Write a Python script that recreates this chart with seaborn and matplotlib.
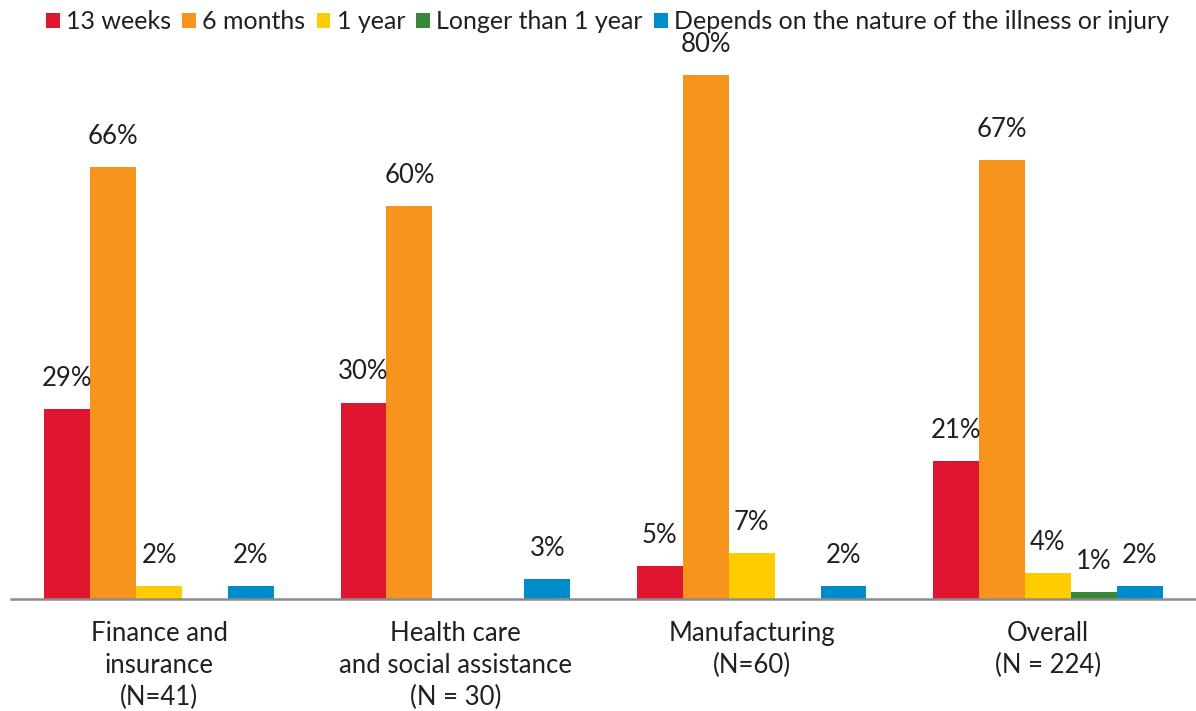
import matplotlib
matplotlib.use("Agg")
import matplotlib.pyplot as plt
import seaborn as sns
import pandas as pd
from matplotlib.patches import Patch

# Survey results: maximum duration of short-term disability benefits
sectors = [
    "Finance and\ninsurance\n(N=41)",
    "Health care\nand social assistance\n(N = 30)",
    "Manufacturing\n(N=60)",
    "Overall\n(N = 224)",
]
durations = ["13 weeks", "6 months", "1 year", "Longer than 1 year",
             "Depends on the nature of the illness or injury"]

weeks_13 = [29, 30, 5, 21]
months_6 = [66, 60, 80, 67]
year_1 = [2, None, 7, 4]
longer_1y = [None, None, None, 1]
depends = [2, 3, 2, 2]

colors = ["#E01530", "#F7941E", "#FFCC00", "#3A873A", "#008BCB"]
text_color = "#231F20"
axis_gray = "#8C8C8C"

rows = []
for series_name, vals in zip(durations, [weeks_13, months_6, year_1, longer_1y, depends]):
    for sector, v in zip(sectors, vals):
        if v is not None:
            rows.append({"sector": sector, "duration": series_name, "pct": v})
df = pd.DataFrame(rows)

sns.set_theme(style="white")
plt.rcParams["font.family"] = ["Lato", "DejaVu Sans"]

fig = plt.figure(figsize=(11.96, 7.11), dpi=100)
ax = fig.add_axes([11 / 1196, (711 - 599) / 711, 1 - 11 / 1196, (599 - 40) / 711])

sns.barplot(data=df, x="sector", y="pct", hue="duration",
            order=sectors, hue_order=durations, palette=colors, saturation=1,
            width=0.775, dodge=True, errorbar=None, linewidth=0,
            ax=ax, legend=False)

for container in ax.containers:
    labels = [f"{v:.0f}%" for v in container.datavalues]
    ax.bar_label(container, labels=labels, padding=13, fontsize=18.5,
                 color=text_color)

ax.set_xlim(-0.5, 3.5)
ax.set_ylim(0, 80 * (599 - 40) / (599 - 75))
ax.set_xlabel("")
ax.set_ylabel("")
ax.set_yticks([])

for side in ["top", "right", "left"]:
    ax.spines[side].set_visible(False)
ax.spines["bottom"].set_color(axis_gray)
ax.spines["bottom"].set_linewidth(1.8)

ax.set_xticks(range(len(sectors)))
ax.set_xticklabels(sectors, fontsize=18.5, color=text_color, linespacing=1.35)
ax.tick_params(axis="x", which="major", length=0, pad=16)
ax.set_xticks([-0.5, 0.5, 1.5, 2.5], minor=True)
ax.tick_params(axis="x", which="minor", length=8, width=1.8,
               color=axis_gray, direction="out")

handles = [Patch(facecolor=c, edgecolor="none") for c in colors]
fig.legend(handles, durations, loc="upper center", bbox_to_anchor=(0.508, 1.007),
           ncol=5, frameon=False, fontsize=18, handlelength=0.55,
           handleheight=0.55, handletextpad=0.25, columnspacing=0.45,
           labelcolor=text_color, borderaxespad=0.2)

fig.savefig("out.png", dpi=100)
